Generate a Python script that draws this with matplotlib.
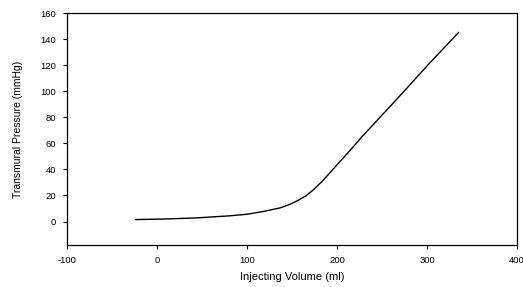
import matplotlib
matplotlib.use("Agg")
import matplotlib.pyplot as plt

volume = [-24, 11, 44, 81, 100, 118, 137, 147, 155, 165, 174, 183, 192, 202, 212, 229, 266, 303, 335]
pressure = [1.5, 2.0, 2.8, 4.4, 5.6, 7.7, 10.5, 13.0, 15.6, 19.5, 24.5, 30.5, 37.3, 45.0, 52.6, 66.0, 93.5, 121.6, 145]
xticks = [-100, 0, 100, 200, 300, 400]
yticks = [0, 20, 40, 60, 80, 100, 120, 140, 160]

plt.rcParams['font.family'] = ['Liberation Sans', 'DejaVu Sans']
plt.rcParams['axes.unicode_minus'] = False
fig = plt.figure(figsize=(5.23, 2.87), dpi=100)
ax = fig.add_axes([0.128, 0.1463, 0.8605, 0.8084])
ax.plot(volume, pressure, color='black', lw=1.0)
ax.set_xlim(-100, 400)
ax.set_ylim(-18, 160)
ax.set_xticks(xticks)
ax.set_yticks(yticks)
ax.tick_params(direction='out', length=3, width=0.8, labelsize=6.8, pad=5)
for s in ax.spines.values():
    s.set_linewidth(0.9)
ax.set_xlabel('Injecting Volume (ml)', fontsize=8, labelpad=5)
ax.set_ylabel('Transmural Pressure (mmHg)', fontsize=7.5, labelpad=12)
fig.savefig('out.png', dpi=100)
